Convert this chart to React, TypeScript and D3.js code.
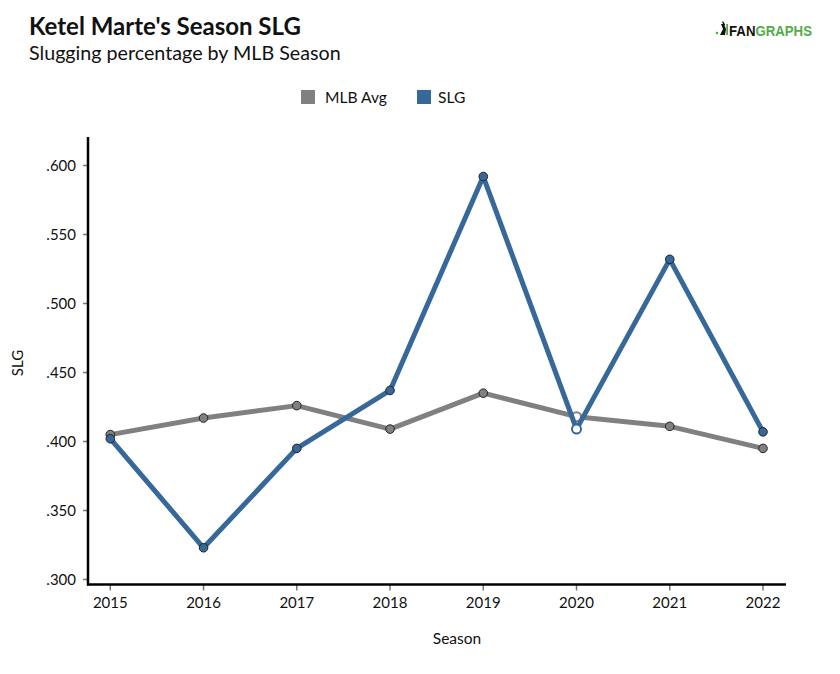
import React from "react";
import * as d3 from "d3";

const seasons = [2015, 2016, 2017, 2018, 2019, 2020, 2021, 2022];
const mlbAvg = [0.405, 0.417, 0.426, 0.409, 0.435, 0.418, 0.411, 0.395];
const slg = [0.402, 0.323, 0.395, 0.437, 0.592, 0.409, 0.532, 0.407];
const yTicks = [0.3, 0.35, 0.4, 0.45, 0.5, 0.55, 0.6];
const hollowSeason = 2020;

const GRAY = "#808080";
const BLUE = "#37689a";
const GREEN = "#52ad47";
const FONT = "Lato, 'Noto Sans', sans-serif";

export default function App() {
  const W = 840, H = 674;
  const x = d3.scaleLinear().domain([2015, 2022]).range([110.3, 763]);
  const y = d3.scaleLinear().domain([0.3, 0.6]).range([579.5, 165.5]);
  const axisLeft = 88, axisBottom = 584.5, axisTop = 137, axisRight = 786;
  const line = d3.line<number>().x((_, i) => x(seasons[i])).y((d) => y(d));
  const fmt = (v: number) => d3.format(".3f")(v).replace(/^0/, "");

  const series = [
    { name: "MLB Avg", values: mlbAvg, color: GRAY },
    { name: "SLG", values: slg, color: BLUE },
  ];

  return (
    <svg width={W} height={H} style={{ position: "absolute", left: 0, top: 0, background: "#fff" }} fontFamily={FONT}>
      <text x={29} y={35} fontSize={24} fontWeight={700} fill="#111">Ketel Marte's Season SLG</text>
      <text x={29} y={60} fontSize={19.7} fill="#111">Slugging percentage by MLB Season</text>

      {/* logo */}
      <g>
        <circle cx={717} cy={33} r={1.3} fill={GREEN} />
        <path d="M720 35 L723 29 L721 24 L724 24 L726 29 L725 35 Z" fill="#111" />
        <rect x={722} y={22} width={1.4} height={4} fill="#111" transform="rotate(-30 722 22)" />
        <rect x={726.2} y={24} width={1.8} height={11} fill={GREEN} />
        <text x={729} y={35.5} fontFamily="'Liberation Sans', Arial, sans-serif" fontWeight={700} fontSize={14.5} textLength={83} lengthAdjust="spacingAndGlyphs">
          <tspan fill="#111">FAN</tspan><tspan fill={GREEN}>GRAPHS</tspan>
        </text>
      </g>

      {/* legend */}
      <rect x={301} y={90} width={14} height={14} fill={GRAY} />
      <text x={325} y={103} fontSize={15.6} fill="#111">MLB Avg</text>
      <rect x={417} y={90} width={14} height={14} fill={BLUE} />
      <text x={438} y={103} fontSize={15.6} fill="#111">SLG</text>

      {/* y ticks */}
      {yTicks.map((t) => (
        <g key={t}>
          <line x1={axisLeft - 5} x2={axisLeft} y1={y(t)} y2={y(t)} stroke="#777" strokeWidth={1.5} />
          <text x={76} y={y(t)} dy="0.35em" textAnchor="end" fontSize={15} fill="#111">{fmt(t)}</text>
        </g>
      ))}
      {/* x ticks */}
      {seasons.map((s) => (
        <g key={s}>
          <line x1={x(s)} x2={x(s)} y1={axisBottom} y2={axisBottom + 6} stroke="#777" strokeWidth={1.5} />
          <text x={x(s)} y={608} textAnchor="middle" fontSize={15} fill="#111">{s}</text>
        </g>
      ))}
      <line x1={axisLeft} x2={axisLeft} y1={axisTop} y2={axisBottom + 1} stroke="#000" strokeWidth={2.5} />
      <line x1={axisLeft - 1} x2={axisRight} y1={axisBottom} y2={axisBottom} stroke="#000" strokeWidth={2.5} />

      <text transform={`translate(23,363) rotate(-90)`} textAnchor="middle" fontSize={15} fill="#111">SLG</text>
      <text x={457} y={644} textAnchor="middle" fontSize={15.5} fill="#111">Season</text>

      {series.map((s) => (
        <g key={s.name}>
          <path d={line(s.values) || ""} fill="none" stroke={s.color} strokeWidth={5} strokeLinejoin="round" strokeLinecap="round" />
          {s.values.map((v, i) => {
            const hollow = seasons[i] === hollowSeason;
            return (
              <circle
                key={i}
                cx={x(seasons[i])}
                cy={y(v)}
                r={hollow ? 4.5 : 4.3}
                fill={hollow ? "#fff" : s.color}
                stroke={hollow ? s.color : "#222"}
                strokeWidth={hollow ? 2 : 1}
              />
            );
          })}
        </g>
      ))}
    </svg>
  );
}
